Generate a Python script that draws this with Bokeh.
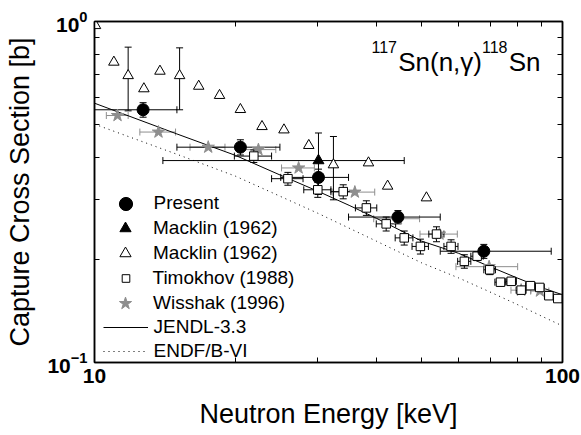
from bokeh.plotting import figure
from bokeh.models import (ColumnDataSource, Whisker, TeeHead, LogAxis, FixedTicker,
                          Legend, LegendItem, Label, Range1d, NumeralTickFormatter)
from bokeh.embed import file_html
from bokeh.resources import INLINE

FONT = "Liberation Sans"

# ---------------- data ----------------
x_ticks = [10, 100]
x_minor = [20, 30, 40, 50, 60, 70, 80, 90]
y_ticks = [0.1, 1.0]
y_minor = [0.2, 0.3, 0.4, 0.5, 0.6, 0.7, 0.8, 0.9]

# Present
E_present = [12.7, 20.5, 30.1, 44.5, 67.9]
sig_present = [0.551, 0.428, 0.349, 0.267, 0.212]
E_present_lo = [10.0, 15.0, 25.0, 34.9, 54.8]
E_present_hi = [15.0, 24.9, 34.9, 54.8, 94.6]
dsig_present = [0.027, 0.022, 0.020, 0.012, 0.010]

# Macklin (1962) filled
E_mack_f = [30.1]
sig_mack_f = [0.391]
E_mack_f_lo = [14.0]
E_mack_f_hi = [45.9]
dsig_mack_f = [0.08]

# Macklin (1962) open
E_mack_o = [10.05, 11.0, 11.8, 12.75, 13.8, 15.2, 16.7, 18.5, 20.5, 22.8, 25.4, 28.7, 32.4, 38.5, 42.3, 51.2]
sig_mack_o = [0.973, 0.760, 0.694, 0.635, 0.715, 0.694, 0.646, 0.607, 0.552, 0.492, 0.481, 0.433, 0.380, 0.385, 0.329, 0.304]
E_mack_o_err = [11.8, 15.2, 32.4]
sig_mack_o_err = [0.694, 0.694, 0.380]
dsig_mack_o_err = [0.147, 0.143, 0.080]

# Timokhov (1988)
E_timo = [21.9, 25.9, 30.0, 34.0, 38.1, 42.0, 45.9, 49.7, 53.8, 57.8, 61.7, 65.7, 69.9, 73.7, 77.7, 81.6, 85.4, 89.4, 93.5, 97.7]
sig_timo = [0.403, 0.346, 0.321, 0.317, 0.284, 0.255, 0.232, 0.219, 0.238, 0.219, 0.198, 0.205, 0.187, 0.172, 0.173, 0.163, 0.168, 0.166, 0.157, 0.154]
dE_timo = [2.0] * 20
dsig_timo = [0.017, 0.015, 0.016, 0.015, 0.014, 0.012, 0.011, 0.011, 0.012, 0.010, 0.009, 0.006, 0.006, 0.003, 0.003, 0.003, 0.003, 0.003, 0.003, 0.003]

# Wisshak (1996)
E_wiss = [11.2, 13.7, 17.5, 22.4, 27.3, 36.0, 44.5, 54.6, 69.7, 81.6, 89.5]
sig_wiss = [0.530, 0.474, 0.428, 0.421, 0.372, 0.316, 0.264, 0.238, 0.191, 0.163, 0.162]
dE_wiss = [0.6, 1.2, 1.5, 2.0, 2.2, 3.7, 5.0, 5.0, 10.5, 4.0, 4.0]

# Evaluations
E_jendl = [10, 15, 20, 25, 30, 35, 40, 50, 60, 70, 80, 90, 100]
sig_jendl = [0.576, 0.468, 0.405, 0.354, 0.318, 0.289, 0.265, 0.227, 0.209, 0.191, 0.177, 0.166, 0.158]
E_endf = [10, 15, 20, 30, 40, 50, 60, 70, 80, 90, 100]
sig_endf = [0.500, 0.408, 0.352, 0.274, 0.227, 0.196, 0.177, 0.161, 0.148, 0.137, 0.128]

GRAY = "#8e8e8e"

# ---------------- figure ----------------
p = figure(width=581, height=435, x_axis_type="log", y_axis_type="log",
           x_range=Range1d(10, 100), y_range=Range1d(0.1, 1.0),
           output_backend="svg", toolbar_location=None,
           min_border_left=94, min_border_right=19, min_border_top=21, min_border_bottom=73)
p.grid.visible = False
p.outline_line_color = "black"
p.outline_line_width = 1.5
p.background_fill_color = "white"
p.border_fill_color = "white"


def style_axis(ax, major, minor):
    ax.ticker = FixedTicker(ticks=major, minor_ticks=minor)
    ax.major_tick_in = 8
    ax.major_tick_out = 0
    ax.minor_tick_in = 5
    ax.minor_tick_out = 0
    ax.axis_line_width = 1.5
    ax.major_tick_line_color = "black"
    ax.minor_tick_line_color = "black"
    ax.major_label_text_font = FONT
    ax.major_label_text_font_style = "bold"
    ax.major_label_text_font_size = "21px"
    ax.major_label_text_color = "black"
    ax.axis_label_text_font = FONT
    ax.axis_label_text_font_style = "normal"
    ax.axis_label_text_font_size = "27px"
    ax.axis_label_text_color = "black"


xax = p.xaxis[0]
style_axis(xax, x_ticks, x_minor)
xax.formatter = NumeralTickFormatter(format="0")
xax.major_label_standoff = 6
xax.axis_label = "Neutron Energy [keV]"
xax.axis_label_standoff = 13

yax = p.yaxis[0]
style_axis(yax, y_ticks, y_minor)
yax.major_label_standoff = 7
yax.axis_label = "Capture Cross Section [b]"
yax.axis_label_standoff = 9

for loc, major, minor in (("above", x_ticks, x_minor), ("right", y_ticks, y_minor)):
    ax = LogAxis()
    style_axis(ax, major, minor)
    ax.major_label_text_font_size = "0px"
    ax.major_label_standoff = 0
    ax.major_label_overrides = {t: "" for t in major}
    p.add_layout(ax, loc)

# ---------------- lines ----------------
r_endf = p.line(E_endf, sig_endf, line_color="black", line_width=1, line_dash="1 4")
r_jendl = p.line(E_jendl, sig_jendl, line_color="black", line_width=1)

# ---------------- error bars ----------------
def whisker(src, base, lower, upper, dim, color="black"):
    w = Whisker(source=src, base=base, lower=lower, upper=upper, dimension=dim,
                level="underlay", line_color=color, line_width=1,
                upper_head=TeeHead(size=7, line_color=color, line_width=1),
                lower_head=TeeHead(size=7, line_color=color, line_width=1))
    p.add_layout(w)

src_w = ColumnDataSource(dict(x=E_wiss, y=sig_wiss,
                              xl=[e - d for e, d in zip(E_wiss, dE_wiss)],
                              xu=[e + d for e, d in zip(E_wiss, dE_wiss)]))
whisker(src_w, "y", "xl", "xu", "width", GRAY)

src_t = ColumnDataSource(dict(x=E_timo, y=sig_timo,
                              xl=[e - d for e, d in zip(E_timo, dE_timo)],
                              xu=[e + d for e, d in zip(E_timo, dE_timo)],
                              yl=[s - d for s, d in zip(sig_timo, dsig_timo)],
                              yu=[s + d for s, d in zip(sig_timo, dsig_timo)]))
whisker(src_t, "y", "xl", "xu", "width")
whisker(src_t, "x", "yl", "yu", "height")

src_moe = ColumnDataSource(dict(x=E_mack_o_err,
                                yl=[s - d for s, d in zip(sig_mack_o_err, dsig_mack_o_err)],
                                yu=[s + d for s, d in zip(sig_mack_o_err, dsig_mack_o_err)]))
whisker(src_moe, "x", "yl", "yu", "height")

src_mf = ColumnDataSource(dict(x=E_mack_f, y=sig_mack_f, xl=E_mack_f_lo, xu=E_mack_f_hi,
                               yl=[s - d for s, d in zip(sig_mack_f, dsig_mack_f)],
                               yu=[s + d for s, d in zip(sig_mack_f, dsig_mack_f)]))
whisker(src_mf, "y", "xl", "xu", "width")
whisker(src_mf, "x", "yl", "yu", "height")

src_p = ColumnDataSource(dict(x=E_present, y=sig_present, xl=E_present_lo, xu=E_present_hi,
                              yl=[s - d for s, d in zip(sig_present, dsig_present)],
                              yu=[s + d for s, d in zip(sig_present, dsig_present)]))
whisker(src_p, "y", "xl", "xu", "width")
whisker(src_p, "x", "yl", "yu", "height")

# ---------------- markers ----------------
r_wiss = p.scatter("x", "y", source=src_w, marker="star", size=13,
                   fill_color=GRAY, line_color=GRAY)
r_timo = p.scatter("x", "y", source=src_t, marker="square", size=8.5,
                   fill_color="white", line_color="black", line_width=1)
src_mo = ColumnDataSource(dict(x=E_mack_o, y=sig_mack_o))
r_mo = p.scatter("x", "y", source=src_mo, marker="triangle", size=10.5,
                 fill_color="white", line_color="black", line_width=1)
r_mf = p.scatter("x", "y", source=src_mf, marker="triangle", size=11,
                 fill_color="black", line_color="black")
r_p = p.scatter("x", "y", source=src_p, marker="circle", size=12,
                fill_color="black", line_color="black")

# ---------------- legend (one block per entry, to keep marker sizes) ----------------
legend_rows = [
    (r_p, "Present", 33, 33, 203.3),
    (r_mf, "Macklin (1962)", 28, 28, 228.3),
    (r_mo, "Macklin (1962)", 28, 28, 252.7),
    (r_timo, "Timokhov (1988)", 19, 26, 277.7),
    (r_wiss, "Wisshak (1996)", 32, 32, 302.7),
    (r_jendl, "JENDL-3.3", 45, 26, 326.7),
    (r_endf, "ENDF/B-VI", 45, 26, 350.5),
]
for rend, lab, gw, gh, yc in legend_rows:
    leg = Legend(items=[LegendItem(label=lab, renderers=[rend])],
                 location=(31 - gw / 2.0, 362 - (yc + gh / 2.0)),
                 glyph_width=gw, glyph_height=gh, label_height=gh,
                 label_standoff=int(round(28 - gw / 2.0)),
                 padding=0, margin=0, spacing=0,
                 border_line_color=None, background_fill_alpha=0,
                 label_text_font=FONT, label_text_font_size="19px",
                 label_text_color="black")
    p.add_layout(leg)

# ---------------- title text ----------------
title_parts = [("117", 277, 316, "16px"), ("Sn(n,\u03b3)", 303.7, 300.3, "26px"),
               ("118", 387.5, 316, "16px"), ("Sn", 414.2, 300.3, "26px")]
for txt, tx, ty, fs in title_parts:
    p.add_layout(Label(x=tx, y=ty, x_units="screen", y_units="screen", text=txt,
                       text_font=FONT, text_font_size=fs, text_color="black",
                       text_baseline="alphabetic", text_align="left"))

open("out.html", "w").write(file_html(p, INLINE))
